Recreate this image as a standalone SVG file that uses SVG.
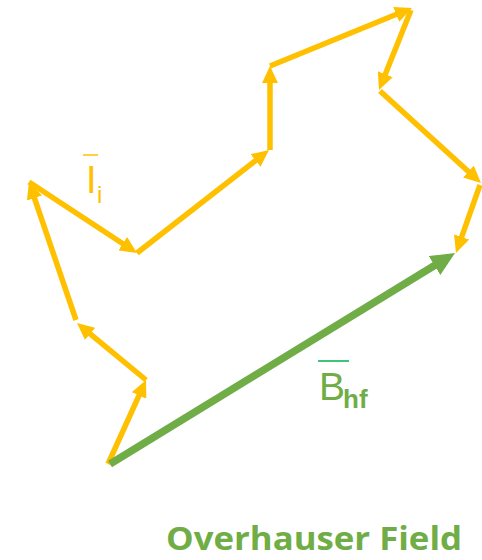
<svg xmlns="http://www.w3.org/2000/svg" width="482" height="560" viewBox="0 0 482 560">
<style>
.y{stroke:#FFC000;stroke-width:5.5;fill:none;marker-end:url(#ay)}
.g{stroke:#70AD47;stroke-width:7.5;fill:none;marker-end:url(#ag)}
.ty{font-family:"Liberation Sans",Arial,sans-serif;fill:#FFC000}
.tg{font-family:"Liberation Sans",Arial,sans-serif;fill:#70AD47}
</style>
<defs>
<marker id="ay" markerUnits="userSpaceOnUse" viewBox="0 0 17 16" markerWidth="17" markerHeight="16" refX="7" refY="8" orient="auto"><path d="M0,0 L17,8 L0,16 z" fill="#FFC000"/></marker>
<marker id="ag" markerUnits="userSpaceOnUse" viewBox="0 0 24 22" markerWidth="24" markerHeight="22" refX="10" refY="11" orient="auto"><path d="M0,0 L24,11 L0,22 z" fill="#70AD47"/></marker>
</defs>
<rect width="482" height="560" fill="#fff"/>
<g id="connectors">
<line class="y" x1="108" y1="464" x2="141.9" y2="389.1"/>
<line class="y" x1="146" y1="380" x2="84.7" y2="329.4"/>
<line class="y" x1="76" y1="320" x2="32.2" y2="191.5"/>
<line class="y" x1="29" y1="182" x2="128.6" y2="247.5"/>
<line class="y" x1="137" y1="253" x2="261.1" y2="156.2"/>
<line class="y" x1="270" y1="150" x2="270" y2="76"/>
<line class="y" x1="270" y1="66" x2="402.7" y2="11.8"/>
<line class="y" x1="411" y1="10" x2="382.7" y2="80.7"/>
<line class="y" x1="380" y1="91" x2="473.6" y2="176.3"/>
<line class="y" x1="480" y1="185" x2="459.3" y2="243.6"/>
<line class="g" x1="110" y1="464" x2="443.1" y2="260.3"/>
</g>
<g id="label-Ii">
<line x1="83" y1="155" x2="98" y2="155" stroke="#FFC000" stroke-width="1.5"/>
<text class="ty" x="86" y="193" font-size="38">I</text>
<text class="ty" x="97" y="203" font-size="24">i</text>
</g>
<g id="label-Bhf">
<line x1="318" y1="361" x2="349" y2="361" stroke="#00B050" stroke-width="1.5"/>
<text class="tg" x="319" y="400" font-size="39">B</text>
<text class="tg" x="343" y="408" font-size="26" font-weight="bold">hf</text>
</g>
<g id="title">
<text class="tg" x="166" y="550" font-size="32" font-weight="bold" style="font-family:'Open Sans','Liberation Sans',sans-serif" textLength="296" lengthAdjust="spacingAndGlyphs">Overhauser Field</text>
</g>
</svg>
